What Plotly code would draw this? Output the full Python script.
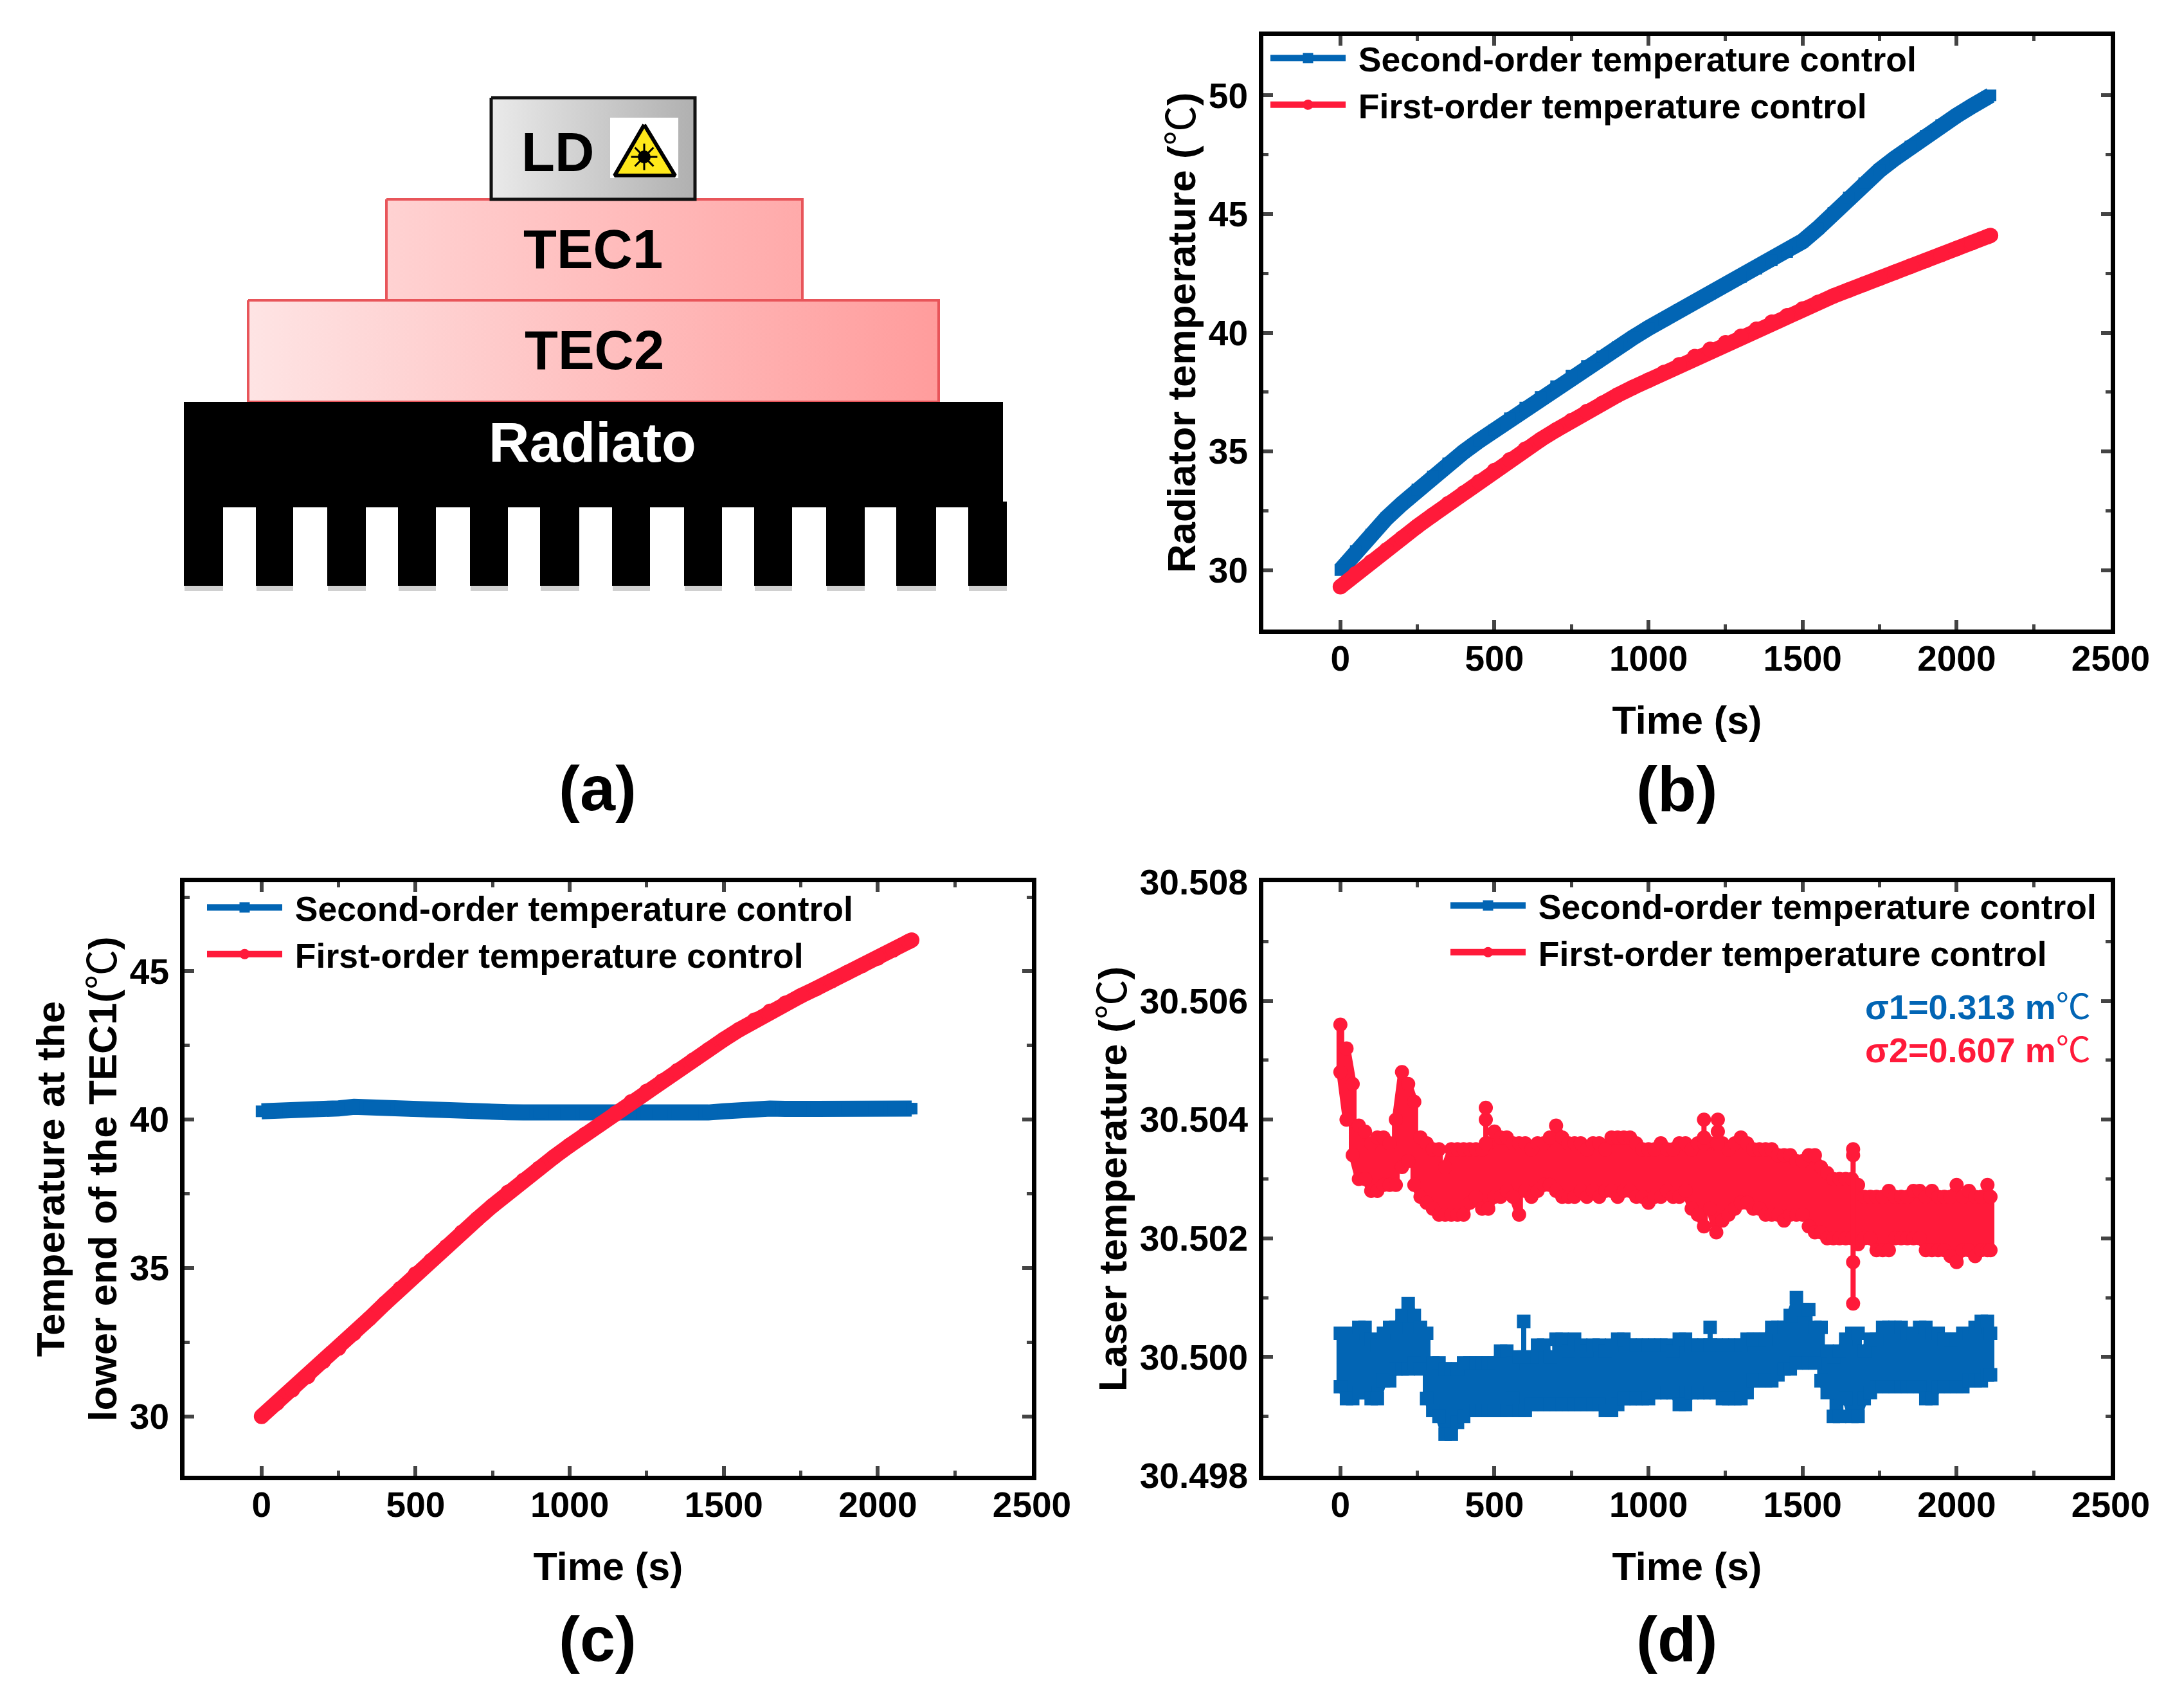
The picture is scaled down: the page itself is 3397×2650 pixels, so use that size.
import plotly.graph_objects as go

W, H = 3397, 2650
# the page keeps its default 8 px body margin, so the figure is that much smaller
PAD = 8
FW, FH = W - 2 * PAD, H - 2 * PAD

# common time grid for the smooth curves, panels (b) and (c)
time_b = [0, 50, 100, 150, 200, 250, 300, 350, 400, 450, 500, 550, 600, 650, 700, 750, 800, 850, 900, 950, 1000,
          1050, 1100, 1150, 1200, 1250, 1300, 1350, 1400, 1450, 1500, 1550, 1600, 1650, 1700, 1750, 1800, 1850,
          1900, 1950, 2000, 2050, 2100, 2110]

b_second = [30.0, 30.8, 31.5, 32.2, 32.8, 33.4, 33.95, 34.5, 34.98, 35.45, 35.9, 36.4, 36.85, 37.3, 37.75, 38.2,
            38.6, 39.0, 39.4, 39.8, 40.2, 40.55, 40.95, 41.3, 41.65, 42.0, 42.35, 42.7, 43.05, 43.4, 43.85, 44.4,
            45.05, 45.7, 46.3, 46.85, 47.35, 47.85, 48.3, 48.75, 49.15, 49.55, 49.95, 50.0]
b_first = [29.3, 29.85, 30.35, 30.85, 31.35, 31.85, 32.32, 32.8, 33.25, 33.72, 34.2, 34.65, 35.1, 35.5, 35.9, 36.3,
           36.68, 37.03, 37.38, 37.7, 38.0, 38.33, 38.65, 39.0, 39.3, 39.58, 39.85, 40.15, 40.45, 40.72, 41.0, 41.28,
           41.55, 41.8, 42.05, 42.3, 42.55, 42.8, 43.05, 43.3, 43.55, 43.8, 44.05, 44.1]

c_second = [40.28, 40.28, 40.28, 40.29, 40.32, 40.38, 40.43, 40.4, 40.36, 40.33, 40.3, 40.28, 40.27, 40.26, 40.25,
            40.25, 40.25, 40.24, 40.23, 40.22, 40.22, 40.22, 40.21, 40.21, 40.21, 40.2, 40.2, 40.21, 40.21, 40.24,
            40.28, 40.35, 40.37, 40.37, 40.36, 40.36, 40.36, 40.36, 40.36, 40.36, 40.36, 40.37, 40.37, 40.37]
c_first = [30.0, 30.45, 30.9, 31.35, 31.85, 32.3, 32.8, 33.3, 33.8, 34.3, 34.8, 35.25, 35.72, 36.2, 36.65, 37.1,
           37.55, 37.95, 38.35, 38.75, 39.13, 39.5, 39.85, 40.22, 40.6, 40.95, 41.3, 41.65, 42.0, 42.35, 42.7, 43.03,
           43.35, 43.65, 43.92, 44.17, 44.42, 44.68, 44.95, 45.2, 45.45, 45.72, 46.0, 46.05]

# panel (d): the noisy traces, read as upper and lower edge of the band every 20 s
time_d = [0, 20, 40, 60, 80, 100, 120, 140, 160, 180, 200, 220, 240, 260, 280, 300, 320, 340, 360, 380,
          400, 420, 440, 460, 480, 500, 520, 540, 560, 580, 600, 620, 640, 660, 680, 700, 720, 740, 760, 780,
          800, 820, 840, 860, 880, 900, 920, 940, 960, 980, 1000, 1020, 1040, 1060, 1080, 1100, 1120, 1140, 1160, 1180,
          1200, 1220, 1240, 1260, 1280, 1300, 1320, 1340, 1360, 1380, 1400, 1420, 1440, 1460, 1480, 1500, 1520, 1540, 1560, 1580,
          1600, 1620, 1640, 1660, 1680, 1700, 1720, 1740, 1760, 1780, 1800, 1820, 1840, 1860, 1880, 1900, 1920, 1940, 1960, 1980,
          2000, 2020, 2040, 2060, 2080, 2100, 2110]

d_first_top = [30.5056, 30.5052, 30.5046, 30.5039, 30.5038, 30.5036, 30.5037, 30.5037, 30.5036, 30.5040,
               30.5048, 30.5046, 30.5043, 30.5037, 30.5036, 30.5035, 30.5035, 30.5032, 30.5035, 30.5035,
               30.5035, 30.5035, 30.5035, 30.5035, 30.5036, 30.5038, 30.5037, 30.5037, 30.5036, 30.5036,
               30.5036, 30.5035, 30.5036, 30.5036, 30.5037, 30.5039, 30.5037, 30.5036, 30.5036, 30.5036,
               30.5035, 30.5036, 30.5036, 30.5035, 30.5037, 30.5037, 30.5037, 30.5037, 30.5036, 30.5035,
               30.5035, 30.5035, 30.5036, 30.5035, 30.5035, 30.5036, 30.5036, 30.5035, 30.5036, 30.5036,
               30.5036, 30.5036, 30.5036, 30.5035, 30.5036, 30.5037, 30.5036, 30.5035, 30.5035, 30.5035,
               30.5035, 30.5034, 30.5034, 30.5034, 30.5033, 30.5033, 30.5034, 30.5034, 30.5032, 30.5031,
               30.5030, 30.5030, 30.5030, 30.5030, 30.5029, 30.5027, 30.5027, 30.5027, 30.5027, 30.5028,
               30.5027, 30.5027, 30.5027, 30.5028, 30.5028, 30.5027, 30.5028, 30.5027, 30.5027, 30.5027,
               30.5029, 30.5027, 30.5028, 30.5027, 30.5027, 30.5029, 30.5027]
d_first_bot = [30.5048, 30.5040, 30.5034, 30.5030, 30.5030, 30.5028, 30.5028, 30.5029, 30.5029, 30.5029,
               30.5032, 30.5033, 30.5029, 30.5027, 30.5026, 30.5025, 30.5024, 30.5024, 30.5024, 30.5024,
               30.5024, 30.5026, 30.5027, 30.5025, 30.5025, 30.5027, 30.5027, 30.5028, 30.5027, 30.5024,
               30.5028, 30.5027, 30.5028, 30.5029, 30.5029, 30.5028, 30.5027, 30.5027, 30.5027, 30.5028,
               30.5027, 30.5028, 30.5027, 30.5028, 30.5028, 30.5027, 30.5028, 30.5028, 30.5027, 30.5027,
               30.5026, 30.5027, 30.5027, 30.5028, 30.5027, 30.5027, 30.5028, 30.5025, 30.5024, 30.5022,
               30.5025, 30.5021, 30.5023, 30.5024, 30.5025, 30.5026, 30.5026, 30.5025, 30.5025, 30.5024,
               30.5024, 30.5024, 30.5023, 30.5024, 30.5024, 30.5024, 30.5022, 30.5021, 30.5021, 30.5020,
               30.5020, 30.5020, 30.5020, 30.5020, 30.5019, 30.5020, 30.5020, 30.5018, 30.5018, 30.5018,
               30.5020, 30.5020, 30.5020, 30.5020, 30.5020, 30.5018, 30.5018, 30.5018, 30.5018, 30.5017,
               30.5016, 30.5018, 30.5018, 30.5017, 30.5018, 30.5018, 30.5018]
d_second_top = [30.5004, 30.5004, 30.5004, 30.5005, 30.5005, 30.5003, 30.5002, 30.5004, 30.5005, 30.5005,
                30.5007, 30.5009, 30.5007, 30.5005, 30.5004, 30.4999, 30.4999, 30.4998, 30.4998, 30.4998,
                30.4999, 30.4999, 30.4999, 30.4999, 30.4999, 30.4999, 30.5001, 30.5001, 30.4999, 30.5000,
                30.5000, 30.5000, 30.5002, 30.5002, 30.5000, 30.5003, 30.5003, 30.5001, 30.5003, 30.5002,
                30.5001, 30.5002, 30.5002, 30.5001, 30.5002, 30.5003, 30.5003, 30.5002, 30.5002, 30.5002,
                30.5002, 30.5002, 30.5002, 30.5002, 30.5001, 30.5003, 30.5003, 30.5002, 30.5002, 30.5002,
                30.5002, 30.5002, 30.5002, 30.5002, 30.5002, 30.5002, 30.5003, 30.5003, 30.5003, 30.5003,
                30.5005, 30.5005, 30.5005, 30.5007, 30.5010, 30.5008, 30.5008, 30.5005, 30.5005, 30.5001,
                30.5000, 30.5001, 30.5003, 30.5004, 30.5004, 30.5001, 30.5003, 30.5003, 30.5005, 30.5005,
                30.5005, 30.5005, 30.5004, 30.5004, 30.5005, 30.5005, 30.5004, 30.5004, 30.5003, 30.5003,
                30.5003, 30.5004, 30.5004, 30.5005, 30.5006, 30.5006, 30.5004]
d_second_bot = [30.4995, 30.4993, 30.4993, 30.4994, 30.4994, 30.4993, 30.4993, 30.4996, 30.4996, 30.4998,
                30.4998, 30.4998, 30.4999, 30.4998, 30.4993, 30.4991, 30.4990, 30.4987, 30.4987, 30.4989,
                30.4990, 30.4991, 30.4991, 30.4991, 30.4991, 30.4991, 30.4991, 30.4991, 30.4993, 30.4991,
                30.4991, 30.4992, 30.4992, 30.4992, 30.4992, 30.4992, 30.4992, 30.4992, 30.4992, 30.4992,
                30.4992, 30.4992, 30.4992, 30.4991, 30.4991, 30.4992, 30.4993, 30.4993, 30.4993, 30.4993,
                30.4993, 30.4994, 30.4994, 30.4994, 30.4994, 30.4992, 30.4992, 30.4994, 30.4994, 30.4994,
                30.4994, 30.4994, 30.4993, 30.4993, 30.4993, 30.4993, 30.4994, 30.4996, 30.4996, 30.4996,
                30.4996, 30.4997, 30.4998, 30.4998, 30.4999, 30.4999, 30.4999, 30.4999, 30.4996, 30.4994,
                30.4990, 30.4990, 30.4993, 30.4990, 30.4990, 30.4993, 30.4994, 30.4995, 30.4995, 30.4995,
                30.4995, 30.4995, 30.4995, 30.4995, 30.4995, 30.4993, 30.4993, 30.4995, 30.4995, 30.4995,
                30.4995, 30.4995, 30.4996, 30.4996, 30.4996, 30.4997, 30.4997]

# the thin vertical spikes that stick out of the bands
spike_first_t = [472, 472, 472, None, 1180, 1180, 1180, None, 1225, 1225, 1225, None, 1664, 1664, 1664, 1664]
spike_first_v = [30.5036, 30.5040, 30.5042, None, 30.5036, 30.5037, 30.5040, None, 30.5036, 30.5038, 30.5040, None,
                 30.5035, 30.5034, 30.5016, 30.5009]
spike_second_t = [595, 595, None, 1200, 1200]
spike_second_v = [30.5000, 30.5006, None, 30.5002, 30.5005]

x_ticks = [0, 500, 1000, 1500, 2000, 2500]
BLUE = "#0265B4"
RED = "#FF1A3A"
SECOND = "\u00a0Second-order temperature control"
FIRST = "\u00a0First-order temperature control"
FONT = "Liberation Sans, Noto Sans CJK SC"
DEG = '<span style="font-weight:normal">℃</span>'


def zigzag(t, top, bot):
    # walk the band edges column by column so the line fills it
    xs, ys = [], []
    for i in range(len(t)):
        pair = (top[i], bot[i]) if i % 2 == 0 else (bot[i], top[i])
        xs += [t[i], t[i]]
        ys += list(pair)
    return xs, ys


fig = go.Figure()

# panels (b), (c)
for n, second, first, lg in [("", b_second, b_first, "legend"), ("2", c_second, c_first, "legend2")]:
    fig.add_trace(go.Scatter(x=time_b, y=second, name=SECOND, mode="lines+markers", xaxis="x" + n, yaxis="y" + n,
                             line=dict(color=BLUE, width=25), marker=dict(symbol="square", size=18, color=BLUE),
                             legend=lg))
    fig.add_trace(go.Scatter(x=time_b, y=first, name=FIRST, mode="lines+markers", xaxis="x" + n, yaxis="y" + n,
                             line=dict(color=RED, width=24), marker=dict(symbol="circle", size=24, color=RED),
                             legend=lg))

# panel (d)
xs, ys = zigzag(time_d, d_second_top, d_second_bot)
fig.add_trace(go.Scatter(x=xs, y=ys, name=SECOND, mode="lines+markers", xaxis="x3", yaxis="y3",
                         line=dict(color=BLUE, width=12), marker=dict(symbol="square", size=21, color=BLUE),
                         legend="legend3"))
fig.add_trace(go.Scatter(x=spike_second_t, y=spike_second_v, mode="lines+markers", xaxis="x3", yaxis="y3",
                         showlegend=False, line=dict(color=BLUE, width=8),
                         marker=dict(symbol="square", size=21, color=BLUE)))
xs, ys = zigzag(time_d, d_first_top, d_first_bot)
fig.add_trace(go.Scatter(x=xs, y=ys, name=FIRST, mode="lines+markers", xaxis="x3", yaxis="y3",
                         line=dict(color=RED, width=12), marker=dict(symbol="circle", size=22, color=RED),
                         legend="legend3"))
fig.add_trace(go.Scatter(x=spike_first_t, y=spike_first_v, mode="lines+markers", xaxis="x3", yaxis="y3",
                         showlegend=False, line=dict(color=RED, width=8),
                         marker=dict(symbol="circle", size=22, color=RED)))


# schematic (a) on a hidden pixel axis
def block(x0, x1, y0, y1, c0, c1, edge, width):
    fig.add_trace(go.Scatter(x=[x0, x1, x1, x0, x0], y=[y0, y0, y1, y1, y0], mode="lines", fill="toself",
                             fillgradient=dict(type="horizontal", colorscale=[[0, c0], [1, c1]]),
                             line=dict(color=edge, width=width), xaxis="x4", yaxis="y4", showlegend=False,
                             hoverinfo="skip"))


fin_edges = [(286, 347), (398, 456), (509, 569), (619, 678), (731, 790), (840, 901), (952, 1011), (1064, 1123),
             (1173, 1232), (1285, 1345), (1394, 1456), (1506, 1566)]
shapes = []
for x0, x1 in fin_edges:
    shapes.append(dict(type="rect", xref="x4", yref="y4", x0=x0 + 1, x1=x1, y0=908, y1=919,
                       fillcolor="#d0d0d0", line_width=0))
    shapes.append(dict(type="rect", xref="x4", yref="y4", x0=x0, x1=x1, y0=780, y1=911,
                       fillcolor="black", line_width=0))
shapes.append(dict(type="rect", xref="x4", yref="y4", x0=286, x1=1560, y0=625, y1=789,
                   fillcolor="black", line_width=0))

block(601, 1248, 310, 467, "#FFD2D2", "#FFAAAA", "#E8555A", 4)
block(386, 1460, 467, 625, "#FEE4E4", "#FF9C9C", "#E8555A", 4)
block(764, 1081, 152, 310, "#EAEAEA", "#B0B0B0", "#111111", 5)
block(949, 1055, 183, 277, "#FFFFFF", "#FFFFFF", "#FFFFFF", 0)
fig.add_trace(go.Scatter(x=[1002, 1050, 956, 1002], y=[194, 273, 273, 194], mode="lines", fill="toself",
                         fillcolor="#FFE81A", line=dict(color="black", width=6), xaxis="x4", yaxis="y4",
                         showlegend=False, hoverinfo="skip"))
fig.add_trace(go.Scatter(x=[1002], y=[244], mode="markers", xaxis="x4", yaxis="y4", showlegend=False,
                         hoverinfo="skip", marker=dict(symbol="circle", size=20, color="black")))
fig.add_trace(go.Scatter(x=[1002], y=[244], mode="markers", xaxis="x4", yaxis="y4", showlegend=False,
                         hoverinfo="skip",
                         marker=dict(symbol="asterisk-open", size=34, color="black",
                                     line=dict(color="black", width=3))))


def xdom(p0, p1):
    return [(p0 - PAD) / FW, (p1 - PAD) / FW]


def ydom(p0, p1):
    return [1 - (p1 - PAD) / FH, 1 - (p0 - PAD) / FH]


def px(x):
    return (x - PAD) / FW


def py(y):
    return 1 - (y - PAD) / FH


def x_axis(dom, anchor):
    return dict(domain=dom, anchor=anchor, range=[-250, 2500], tickvals=x_ticks, ticks="inside", ticklen=15,
                tickwidth=6, linewidth=7, linecolor="black", mirror="ticks", showgrid=False, zeroline=False,
                minor=dict(dtick=250, ticks="inside", ticklen=8, tickwidth=5, showgrid=False),
                ticklabelstandoff=-9,
                tickfont=dict(family=FONT, size=55, color="black", weight="bold"),
                title=dict(text="Time (s)", standoff=47, font=dict(family=FONT, size=61, color="black", weight="bold")))


def y_axis(dom, anchor, rng, tickvals, minor, title, fmt=None, standoff=3):
    d = dict(domain=dom, anchor=anchor, range=rng, tickvals=tickvals, ticks="inside", ticklen=15, tickwidth=6,
             linewidth=7, linecolor="black", mirror="ticks", showgrid=False, zeroline=False,
             minor=dict(dtick=minor, ticks="inside", ticklen=8, tickwidth=5, showgrid=False),
             ticklabelstandoff=6,
             tickfont=dict(family=FONT, size=55, color="black", weight="bold"),
             title=dict(text=title, standoff=standoff, font=dict(family=FONT, size=62, color="black", weight="bold")))
    if fmt:
        d["tickformat"] = fmt
    return d


legend_base = dict(bgcolor="rgba(0,0,0,0)", borderwidth=0, itemwidth=117, xanchor="left", yanchor="top",
                   font=dict(family=FONT, size=53.5, color="black", weight="bold"), tracegroupgap=0)


def caption(text, x, y):
    return dict(text=text, x=px(x), y=py(y), xref="paper", yref="paper", showarrow=False, xanchor="center",
                yanchor="middle", font=dict(family=FONT, size=99, color="black", weight="bold"))


def label(text, x, y, size, color):
    return dict(text=text, x=x, y=y, xref="x4", yref="y4", showarrow=False, xanchor="center", yanchor="middle",
                font=dict(family=FONT, size=size, color=color, weight="bold"))


def sigma(text, y, color):
    return dict(text=text, x=px(3254), y=py(y), xref="paper", yref="paper", showarrow=False, xanchor="right",
                yanchor="middle", font=dict(family=FONT, size=54, color=color, weight="bold"))


fig.update_layout(
    width=FW, height=FH, margin=dict(l=0, r=0, t=0, b=0, autoexpand=False),
    paper_bgcolor="white", plot_bgcolor="rgba(0,0,0,0)",
    xaxis=x_axis(xdom(1965, 3283), "y"),
    yaxis=y_axis(ydom(56, 979), "x", [27.5, 52.5], [30, 35, 40, 45, 50], 2.5, "Radiator temperature (" + DEG + ")"),
    xaxis2=x_axis(xdom(287, 1605), "y2"),
    yaxis2=y_axis(ydom(1372, 2295), "x2", [28, 48], [30, 35, 40, 45], 2.5,
                  "Temperature at the<br>lower end of the TEC1(" + DEG + ")"),
    xaxis3=x_axis(xdom(1965, 3283), "y3"),
    yaxis3=y_axis(ydom(1372, 2295), "x3", [30.498, 30.508], [30.498, 30.5, 30.502, 30.504, 30.506, 30.508], 0.001,
                  "Laser temperature (" + DEG + ")", fmt=".3f"),
    xaxis4=dict(domain=[0, 1], anchor="y4", range=[PAD, W - PAD], visible=False),
    yaxis4=dict(domain=[0, 1], anchor="x4", range=[H - PAD, PAD], visible=False),
    legend=dict(legend_base, x=px(1971), y=py(49)),
    legend2=dict(legend_base, x=px(317), y=py(1370)),
    legend3=dict(legend_base, x=px(2251), y=py(1367)),
    shapes=shapes,
    annotations=[
        caption("(a)", 929, 1225), caption("(b)", 2608, 1226), caption("(c)", 929, 2548), caption("(d)", 2608, 2548),
        sigma("σ1=0.313 m" + DEG, 1566, BLUE), sigma("σ2=0.607 m" + DEG, 1633, RED),
        label("LD", 867, 236, 85, "black"), label("TEC1", 922, 387, 85, "black"),
        label("TEC2", 924, 544, 85, "black"), label("Radiato", 921, 687, 88, "white"),
    ],
)

fig.write_html("out.html")
